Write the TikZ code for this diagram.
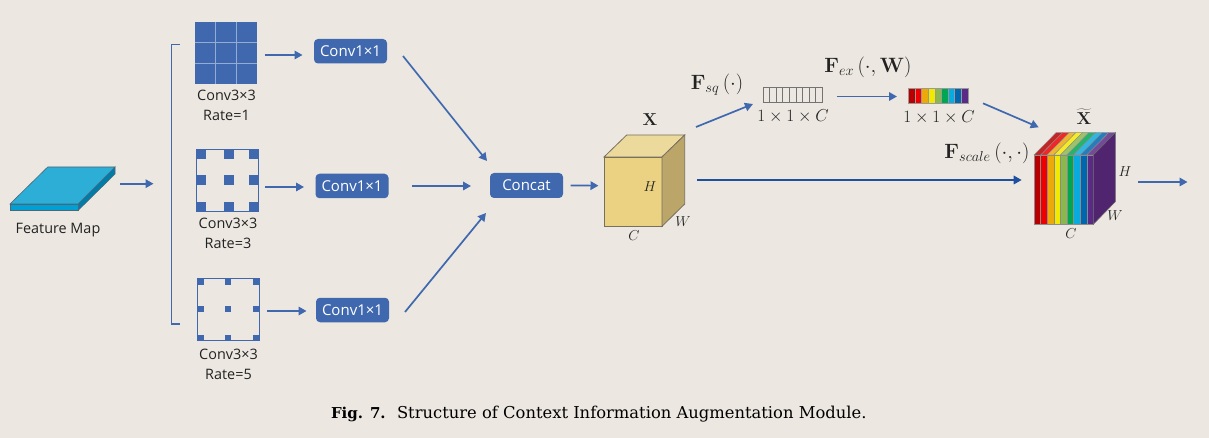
\documentclass[tikz,border=0pt]{standalone}
\usepackage[no-math]{fontspec}
\setmainfont{Open Sans}
\newfontfamily\capfont{DejaVu Serif}
\usetikzlibrary{arrows.meta,calc}
\definecolor{bgc}{HTML}{ECE8E1}
\definecolor{blu}{HTML}{3F68AE}
\definecolor{dblu}{HTML}{1F4F9F}
\definecolor{txt}{HTML}{222222}
\definecolor{edgeb}{HTML}{77705F}
\definecolor{ra}{HTML}{B80000}\definecolor{rb}{HTML}{EE0000}\definecolor{rc}{HTML}{EBAA0A}
\definecolor{rd}{HTML}{F2E800}\definecolor{re}{HTML}{8AB84F}\definecolor{rf}{HTML}{00A651}
\definecolor{rg}{HTML}{0AA9DE}\definecolor{rh}{HTML}{0066B0}\definecolor{ri}{HTML}{5B2A86}
\tikzset{
  every node/.style={outer sep=0pt,inner sep=0pt,text=txt},
  arr/.style={draw=blu,line width=1.7pt,-{Triangle[length=8pt,width=8.5pt]}},
  darr/.style={draw=dblu,line width=1.7pt,-{Triangle[length=8pt,width=8.5pt]}},
  convbox/.style={fill=blu,rounded corners=4pt,minimum width=73pt,minimum height=24.5pt,text=white,font=\fontsize{15}{16}\selectfont},
  lbl/.style={font=\fontsize{14.4}{20}\selectfont,align=center},
  gridbox/.style={minimum width=62.5pt,minimum height=62pt},
  dimlbl/.style={font=\fontsize{15}{18}\selectfont},
  sizelbl/.style={font=\fontsize{17.5}{20}\selectfont},
  bigm/.style={font=\fontsize{20}{24}\selectfont},
}
\begin{document}
\begin{tikzpicture}[x=1pt,y=-1pt]
\fill[bgc] (0,0) rectangle (1209,438);
\useasboundingbox (0,0) rectangle (1209,438);
% feature map
\filldraw[draw=black!60!cyan,fill={rgb,255:red,0;green,124;blue,170},line width=.6pt] (78,204) -- (115,167) -- (115,174) -- (78,210.5) -- cycle;
\filldraw[draw=black!60!cyan,fill={rgb,255:red,0;green,160;blue,212},line width=.6pt] (10,204) -- (78,204) -- (78,210.5) -- (10,210.5) -- cycle;
\filldraw[draw=black!60!cyan,fill={rgb,255:red,44;green,174;blue,214},line width=.6pt] (47.7,167) -- (115,167) -- (78,204) -- (10,204) -- cycle;
\node[lbl] (fml) at (58,230) {Feature Map};
\coordinate (fm) at (115,183.7);
\coordinate (br) at (171.5,183.7);
\draw[arr,shorten <=5pt,shorten >=18pt] (fm) -- (br);
\draw[blu,line width=1.4pt] (180,44.5) -- (171.5,44.5) -- (171.5,324) -- (180,324);
% grid 1
\node[gridbox,fill=blu,minimum width=62.6pt,minimum height=61.7pt] (g1) at (226,52.85) {};
\foreach \f in {1,2}{
  \draw[white!45!blu,line width=.8pt] ($(g1.north west)!\f/3!(g1.north east)$) -- ($(g1.south west)!\f/3!(g1.south east)$);
  \draw[white!45!blu,line width=.8pt] ($(g1.north west)!\f/3!(g1.south west)$) -- ($(g1.north east)!\f/3!(g1.south east)$);
}
\node[lbl] at (226.5,105) {Conv3×3\\Rate=1};
% grid 2
\node[gridbox,draw=blu,line width=.8pt] (g2) at (227.5,180.5) {};
\foreach \x in {201,228.5,254}\foreach \y in {154.3,180.5,206.7}
  \fill[blu] (\x-5,\y-5) rectangle (\x+5,\y+5);
\node[lbl] at (228,233) {Conv3×3\\Rate=3};
% grid 3
\node[gridbox,draw=blu,line width=.8pt] (g3) at (228.5,309.5) {};
\foreach \x in {200.3,228,256.5}\foreach \y in {281.5,309,338}
  \fill[blu] (\x-3.25,\y-3.25) rectangle (\x+3.25,\y+3.25);
\node[lbl] at (228.5,364) {Conv3×3\\Rate=5};
% conv boxes
\node[convbox] (c1) at (350.5,51.25) {Conv1×1};
\node[convbox] (c2) at (352,186) {Conv1×1};
\node[convbox] (c3) at (352.5,310) {Conv1×1};
\node[convbox,minimum height=25pt] (cat) at (526.5,185.5) {Concat};
\draw[arr] ([xshift=7.2pt,yshift=-2.15pt]g1.east) -- ([xshift=-11.5pt,yshift=-3.75pt]c1.west);
\draw[arr] ([xshift=6.2pt,yshift=-6.5pt]g2.east) -- ([xshift=-11.5pt,yshift=-1pt]c2.west);
\draw[arr] ([xshift=7.5pt,yshift=-1.5pt]g3.east) -- ([xshift=-9.5pt,yshift=-1pt]c3.west);
\draw[arr] ([xshift=16pt,yshift=-4.75pt]c1.east) -- ([xshift=-3pt,yshift=24.5pt]cat.west);
\draw[arr] ([xshift=23.5pt]c2.east) -- ([xshift=-19pt,yshift=-.5pt]cat.west);
\draw[arr] ([xshift=16pt,yshift=-2pt]c3.east) -- ([xshift=-4pt,yshift=-27.5pt]cat.west);
% cube X
\node[minimum width=58pt,minimum height=69.3pt,fill={rgb,255:red,235;green,210;blue,130},draw=edgeb,line width=.8pt] (X) at (633,191.65) {};
\filldraw[draw=edgeb,fill={rgb,255:red,236;green,217;blue,156},line width=.8pt] (X.north west) -- (626.7,135) -- (684.7,135) -- (X.north east) -- cycle;
\filldraw[draw=edgeb,fill={rgb,255:red,187;green,165;blue,105},line width=.8pt] (X.north east) -- (684.7,135) -- (684.7,204) -- (X.south east) -- cycle;
\node[font=\fontsize{16}{17}\selectfont] at (650,120) {$\mathbf{X}$};
\node[dimlbl] at (650,187) {$H$};
\node[dimlbl] at (683,222) {$W$};
\node[dimlbl] at (634,236) {$C$};
\draw[arr] ([xshift=7.5pt]cat.east) -- ([xshift=-5.5pt,yshift=6pt]X.west);
% squeeze
\node[minimum width=59.3pt,minimum height=15.4pt,draw=black!55,line width=.6pt] (sq) at (792.6,95) {};
\foreach \f in {1,...,8}
  \draw[black!55,line width=.6pt] ($(sq.north west)!\f/9!(sq.north east)$) -- ($(sq.south west)!\f/9!(sq.south east)$);
\node[sizelbl] at (793,116.5) {$1\times1\times C$};
\node[bigm] at (717,85) {$\mathbf{F}_{sq}\,(\cdot)$};
\draw[arr] ([xshift=34pt,yshift=30pt]X.north east) -- ([xshift=-10pt,yshift=-9pt]sq.west);
% excite bar
\node[minimum width=59.4pt,minimum height=15pt] (ex) at (938,95.8) {};
\foreach \c [count=\i from 0] in {ra,rb,rc,rd,re,rf,rg,rh,ri}
  \filldraw[draw=black!40,line width=.3pt,fill=\c] ($(ex.north west)+(\i*6.6,0)$) rectangle ($(ex.south west)+(\i*6.6+6.6,0)$);
\node[sizelbl] at (939,117.5) {$1\times1\times C$};
\node[bigm] at (868,67) {$\mathbf{F}_{ex}\,(\cdot,\mathbf{W})$};
\draw[arr] ([xshift=14.7pt,yshift=-1.5pt]sq.east) -- ([xshift=-11.3pt,yshift=-.7pt]ex.west);
% rainbow cube
\node[minimum width=59.3pt,minimum height=69.3pt] (Y) at (1063.65,189.65) {};
\foreach \c [count=\i from 0] in {ra,rb,rc,rd,re,rf,rg,rh,ri}{
  \pgfmathsetmacro{\xa}{1034+\i*6.59}
  \pgfmathsetmacro{\xb}{\xa+6.59}
  \filldraw[draw=black!45,line width=.4pt,fill=\c] (\xa,155) rectangle (\xb,224.3);
  \filldraw[draw=black!45,line width=.4pt,fill=\c!85!white] (\xa,155) -- (\xa+22,132.7) -- (\xb+22,132.7) -- (\xb,155) -- cycle;
}
\filldraw[draw=black!60,line width=.5pt,fill={rgb,255:red,81;green,36;blue,112}] (Y.north east) -- (1115.3,132.7) -- (1115.3,201.7) -- (Y.south east) -- cycle;
\node[font=\fontsize{16}{17}\selectfont] at (1084,117) {$\widetilde{\mathbf{X}}$};
\node[bigm] at (987,153) {$\mathbf{F}_{scale}\,(\cdot,\cdot)$};
\node[dimlbl] at (1125,172) {$H$};
\node[dimlbl] at (1115,216) {$W$};
\node[dimlbl] at (1071,234) {$C$};
\draw[arr] ([xshift=15.3pt,yshift=-7.5pt]ex.east) -- ([xshift=4.7pt,yshift=27.7pt]Y.north west);
\draw[darr] ([xshift=35pt,yshift=11.65pt]X.east) -- ([xshift=-12.3pt,yshift=9.65pt]Y.west);
\coordinate (out) at (1187.5,182);
\draw[arr,shorten <=45pt] (Y.east |- out) -- (out);
% caption
\node[anchor=base west,font=\capfont\fontsize{15}{18}\selectfont,text=black] (cap) at (331,418) {\textbf{Fig. 7.}};
\node[anchor=base west,font=\capfont\fontsize{16.35}{18}\selectfont,text=black] (cap2) at (397,418) {Structure of Context Information Augmentation Module.};
\end{tikzpicture}
\end{document}
